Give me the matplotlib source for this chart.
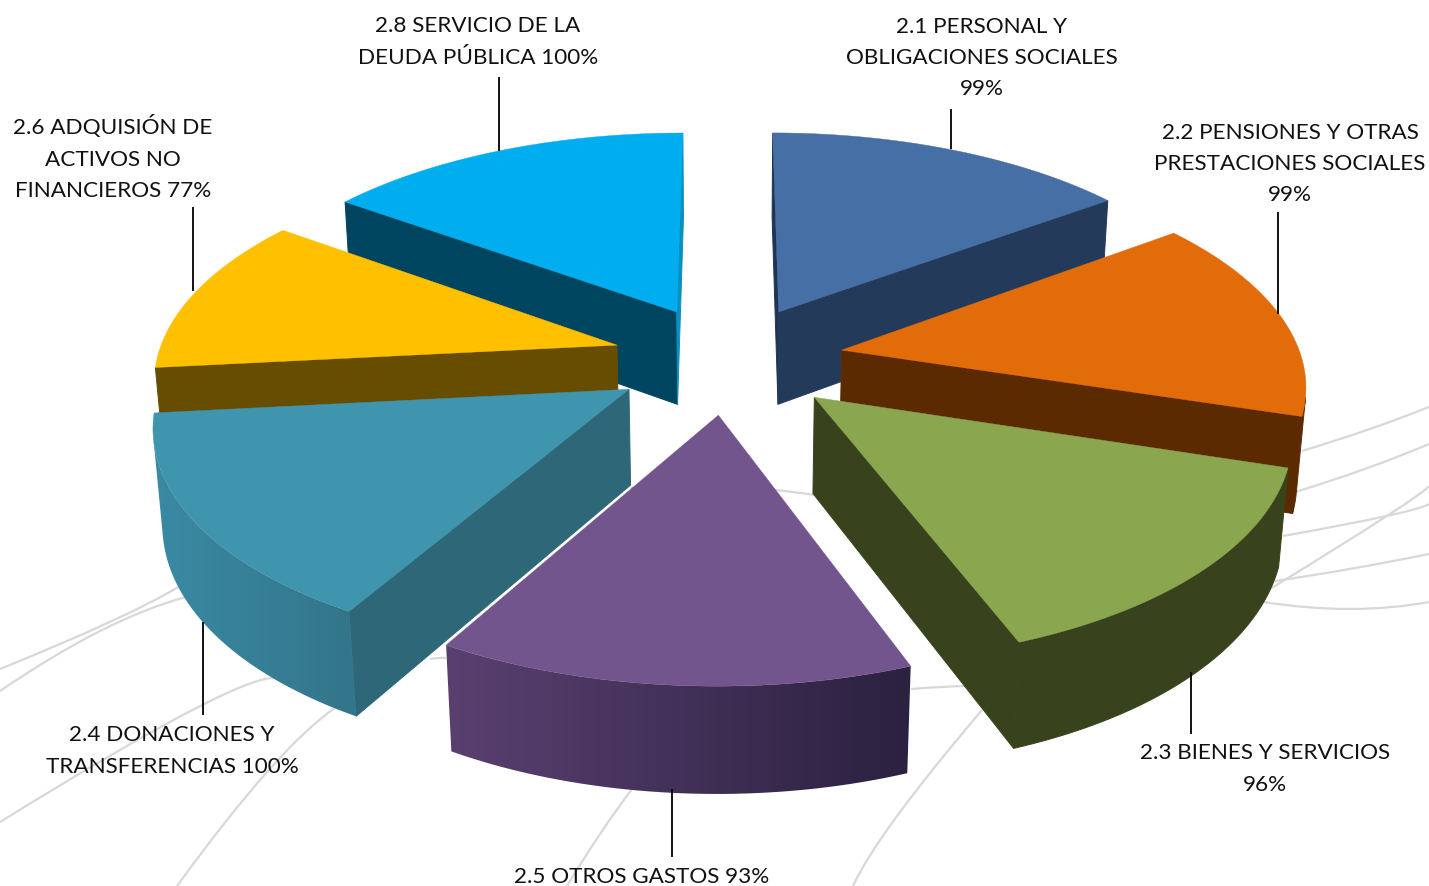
import numpy as np
import matplotlib
matplotlib.use("Agg")
import matplotlib.pyplot as plt
from matplotlib.path import Path
from matplotlib.patches import PathPatch, Polygon
from matplotlib.colors import to_rgb

# ---- data (clockwise from 12 o'clock) ----
labels = ["2.1 PERSONAL Y\nOBLIGACIONES SOCIALES\n99%",
          "2.2 PENSIONES Y OTRAS\nPRESTACIONES SOCIALES\n99%",
          "2.3 BIENES Y SERVICIOS\n96%",
          "2.5 OTROS GASTOS 93%",
          "2.4 DONACIONES Y\nTRANSFERENCIAS 100%",
          "2.6 ADQUISIÓN DE\nACTIVOS NO\nFINANCIEROS 77%",
          "2.8 SERVICIO DE LA\nDEUDA PÚBLICA 100%"]
values = [99, 99, 96, 93, 100, 77, 100]

top_colors = ["#466FA6", "#E36C0A", "#8AA64E", "#72558C", "#4095AE", "#FFC000", "#00AEEF"]
start_side = ["#1E3454", "#5C2A00", "#38431E", "#2C2240", "#2E6878", "#664D00", "#004560"]
end_side = ["#233A5A", "#5C2A00", "#38431E", "#2C2240", "#2E6878", "#664D00", "#0A8FBF"]
arc_right = ["#233A5A", "#5C2A00", "#38431E", "#2B2140", "#33758A", "#664D00", "#004560"]
arc_left = ["#233A5A", "#5C2A00", "#38431E", "#5A4070", "#3A8AA4", "#664D00", "#004560"]

label_pos = [(982, 58), (1290, 164), (1265, 769), (642, 877), (172, 751), (113, 158), (478, 42)]
leaders = [(951, 110, 150), (1278, 213, 315), (1191, 673, 735), (672, 790, 858),
           (203, 623, 716), (193, 208, 292), (499, 78, 152)]

# decorative swooshes in the background: start, mid, end
swooshes = [
    [(0, 670), (110, 623), (180, 587)], [(0, 692), (100, 632), (186, 598)],
    [(0, 823), (200, 707), (280, 681)], [(177, 887), (267, 773), (336, 708)],
    [(567, 887), (600, 835), (632, 790)], [(853, 887), (897, 817), (982, 711)],
    [(911, 690), (940, 688), (965, 687)], [(430, 660), (438, 659), (446, 659)],
    [(630, 489), (720, 487), (815, 496)],
    [(1302, 452), (1370, 430), (1429, 408)], [(1295, 493), (1365, 470), (1429, 445)],
    [(1283, 537), (1387, 517), (1429, 505)], [(1270, 590), (1387, 517), (1429, 487)],
    [(1275, 582), (1350, 570), (1429, 555)], [(1263, 603), (1350, 610), (1429, 603)],
]

# ---- projection of the exploded 3-D pie ----
CX, CY, A, B, C = 728.0, 360.0, 460.0, 216.0, 96.0
K, M, EXPLODE = 0.139, 0.016, 0.252


def project(x, y, d):
    w = 1 + K * y + M * d
    return CX + A * x / w, CY - (B * y - C * d) / w


fig = plt.figure(figsize=(14.29, 8.87), dpi=100)
ax = fig.add_axes([0, 0, 1, 1])
ax.axis("off")

for p0, pm, p2 in swooshes:
    p0, pm, p2 = map(np.array, (p0, pm, p2))
    ctrl = 2 * pm - (p0 + p2) / 2
    ax.add_patch(PathPatch(Path([p0, ctrl, p2], [Path.MOVETO, Path.CURVE3, Path.CURVE3]),
                           fc="none", ec="#D8D8D8", lw=1.6, zorder=0))

vals = np.array(values, float)
edges = np.concatenate([[0], np.cumsum(vals)]) / vals.sum() * 2 * np.pi
mids = (edges[:-1] + edges[1:]) / 2
order = np.argsort(-np.cos(mids))


def visible(q):
    q = np.array(q)
    x, y = q[:, 0], q[:, 1]
    return np.sum(x * np.roll(y, -1) - np.roll(x, -1) * y) < 0


z = 1
for i in order:
    a0, a1 = edges[i], edges[i + 1]
    ox, oy = EXPLODE * np.sin(mids[i]), EXPLODE * np.cos(mids[i])
    th = np.linspace(a0, a1, 121)
    xs, ys = ox + np.sin(th), oy + np.cos(th)
    top = [project(x, y, 0) for x, y in zip(xs, ys)]
    bot = [project(x, y, 1) for x, y in zip(xs, ys)]
    at, ab = project(ox, oy, 0), project(ox, oy, 1)

    qa = [at, top[0], bot[0], ab]
    qb = [top[-1], at, ab, bot[-1]]
    if visible(qa):
        ax.add_patch(Polygon(qa, fc=start_side[i], ec=start_side[i], lw=0.7, zorder=z))
    if visible(qb):
        ax.add_patch(Polygon(qb, fc=end_side[i], ec=end_side[i], lw=0.7, zorder=z))

    keep = [j for j in range(120) if visible([top[j], top[j + 1], bot[j + 1], bot[j]])]
    if keep:
        j0, j1 = keep[0], keep[-1] + 1
        outline = top[j0:j1 + 1] + bot[j0:j1 + 1][::-1]
        if arc_left[i] == arc_right[i]:
            ax.add_patch(Polygon(outline, fc=arc_left[i], ec=arc_left[i], lw=0.7, zorder=z + 0.2))
        else:
            pts = np.array(outline)
            cl, cr = np.array(to_rgb(arc_left[i])), np.array(to_rgb(arc_right[i]))
            grad = np.linspace(cl, cr, 256)[None, :, :]
            im = ax.imshow(grad, extent=(pts[:, 0].min(), pts[:, 0].max(), pts[:, 1].max(), pts[:, 1].min()),
                           aspect="auto", interpolation="bilinear", zorder=z + 0.2)
            clip = Polygon(outline, fc="none", ec="none", transform=ax.transData)
            ax.add_patch(clip)
            im.set_clip_path(clip)
    ax.add_patch(Polygon([at] + top, fc=top_colors[i], ec=top_colors[i], lw=0.3, zorder=z + 0.5))
    z += 1

for x, y0, y1 in leaders:
    ax.plot([x, x], [y0, y1], color="black", lw=1.3, zorder=20, solid_capstyle="butt")

for text, (x, y) in zip(labels, label_pos):
    ax.text(x, y, text, ha="center", va="center", family="Lato", fontsize=16.2,
            color="#111111", linespacing=1.70, zorder=21)

ax.set_xlim(0, 1429)
ax.set_ylim(887, 0)
fig.savefig("out.png", dpi=100, facecolor="white")
